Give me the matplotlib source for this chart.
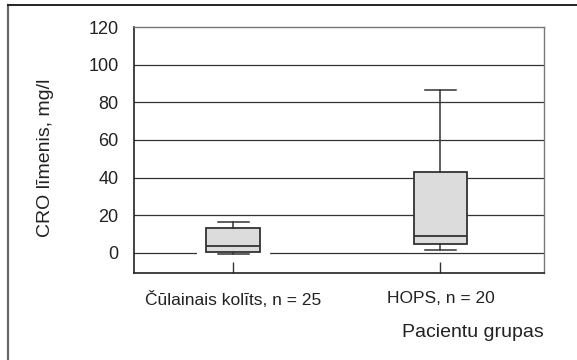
import numpy as np
import matplotlib
matplotlib.use("Agg")
import matplotlib.pyplot as plt
from matplotlib.lines import Line2D

# box statistics (mg/l)
groups = ["Čūlainais kolīts, n = 25", "HOPS, n = 20"]
lower_whisker = [-0.4, 1.4]
q1 = [0.7, 4.8]
median = [3.9, 9.0]
q3 = [13.1, 43.0]
upper_whisker = [16.3, 86.8]
yticks = [0, 20, 40, 60, 80, 100, 120]

plt.rcParams['font.family'] = ['Liberation Sans', 'DejaVu Sans']

stats = []
for i, name in enumerate(groups):
    stats.append({"label": name, "whislo": lower_whisker[i], "q1": q1[i],
                  "med": median[i], "q3": q3[i], "whishi": upper_whisker[i],
                  "fliers": []})

fig = plt.figure(figsize=(5.77, 3.6), dpi=100)
ax = fig.add_axes([0.2322, 0.2425, 0.7106, 0.6825])

pos = [1, 2]
dark = "#333333"

# horizontal grid
for t in yticks[:-1]:
    ax.axhline(t, color=dark, lw=0.9, zorder=1)

# white halo under the caps (breaks the grid line like in the original)
halo = ax.bxp(stats, positions=pos, widths=0.26, showfliers=False, patch_artist=True,
              capwidths=0.33, manage_ticks=False,
              boxprops=dict(facecolor="none", edgecolor="none"),
              whiskerprops=dict(color="none"), medianprops=dict(color="none"),
              capprops=dict(color="white", lw=3))
for c in halo["caps"]:
    c.set_zorder(2)

bp = ax.bxp(stats, positions=pos, widths=0.26, showfliers=False, patch_artist=True,
            capwidths=0.147,
            boxprops=dict(facecolor="#dcdcdc", edgecolor=dark, lw=1.3),
            whiskerprops=dict(color=dark, lw=1.1),
            capprops=dict(color=dark, lw=1.1),
            medianprops=dict(color=dark, lw=1.3))
for k in ["boxes", "whiskers", "caps", "medians"]:
    for a in bp[k]:
        a.set_zorder(3)

ax.set_xlim(0.52, 2.50)
ax.set_ylim(-10.5, 120)
ax.set_yticks(yticks)
ax.set_xticks(pos)
ax.set_xticklabels(groups)

ax.tick_params(axis="y", length=0, pad=11, labelsize=13, labelcolor="#222222")
ax.tick_params(axis="x", direction="in", length=8, width=1, color=dark,
               pad=13, labelsize=12.5, labelcolor="#222222")

for side in ["left", "bottom"]:
    ax.spines[side].set_color("#222222")
    ax.spines[side].set_linewidth(1.2)
for side in ["top", "right"]:
    ax.spines[side].set_color("#777777")
    ax.spines[side].set_linewidth(1.0)

ax.set_ylabel("CRO līmenis, mg/l", fontsize=14, color="#222222")
ax.yaxis.set_label_coords(-0.195, 0.467)
ax.set_xlabel("Pacientu grupas", fontsize=14, color="#222222", loc="right",
              labelpad=12)

# outer frame (left and top edges)
fig.add_artist(Line2D([8 / 577, 8 / 577], [0, 1 - 5 / 360], color="#666666",
                      lw=1.6, transform=fig.transFigure))
fig.add_artist(Line2D([8 / 577, 1], [1 - 5 / 360, 1 - 5 / 360], color="#222222",
                      lw=1.4, transform=fig.transFigure))

fig.savefig("out.png", dpi=100)
